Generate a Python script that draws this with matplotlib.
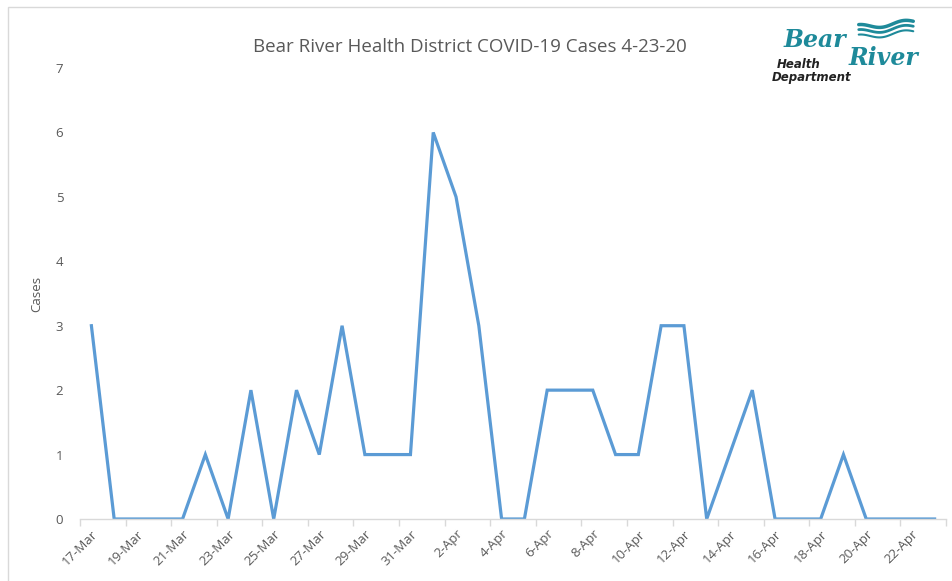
import matplotlib
matplotlib.use("Agg")
import matplotlib.pyplot as plt
import numpy as np
from matplotlib.patches import Rectangle

dates = ["17-Mar","18-Mar","19-Mar","20-Mar","21-Mar","22-Mar","23-Mar","24-Mar","25-Mar",
         "26-Mar","27-Mar","28-Mar","29-Mar","30-Mar","31-Mar","1-Apr","2-Apr","3-Apr",
         "4-Apr","5-Apr","6-Apr","7-Apr","8-Apr","9-Apr","10-Apr","11-Apr","12-Apr",
         "13-Apr","14-Apr","15-Apr","16-Apr","17-Apr","18-Apr","19-Apr","20-Apr","21-Apr",
         "22-Apr","23-Apr"]
cases = [3,0,0,0,0,1,0,2,0,2,1,3,1,1,1,6,5,3,0,0,2,2,2,1,1,3,3,0,1,2,0,0,0,1,0,0,0,0]
yticks = [0,1,2,3,4,5,6,7]
title = "Bear River Health District COVID-19 Cases 4-23-20"

W, H = 952, 581
fig = plt.figure(figsize=(W/100, H/100), dpi=100)
fig.patch.set_facecolor("white")
# chart frame
fig.add_artist(Rectangle((8/W, -0.1), 1.2, (H-7)/H + 0.1, transform=fig.transFigure,
                         fill=False, edgecolor="#d9d9d9", linewidth=1.0))

font = "Open Sans"
gray = "#595959"
ax = fig.add_axes([80/W, 1-519/H, (946-80)/W, (519-68)/H])
x = np.arange(len(dates))
ax.plot(x, cases, color="#5B9BD5", linewidth=2.3, solid_joinstyle="miter")
ax.set_xlim(-0.5, len(dates)-0.5)
ax.set_ylim(0, 7)
ax.set_yticks(yticks)
ax.set_yticklabels([str(v) for v in yticks], fontsize=9.5, color=gray, family=font)
ax.tick_params(axis="y", length=0, pad=12)
for s in ["top", "right", "left"]:
    ax.spines[s].set_visible(False)
ax.spines["bottom"].set_color("#d9d9d9")
ax.spines["bottom"].set_linewidth(1.0)
# tick marks at boundaries, labels at every 2nd date
ax.set_xticks(np.arange(-0.5, len(dates), 2))
ax.set_xticklabels([])
ax.tick_params(axis="x", which="major", length=5, color="#d9d9d9", width=1.0)
ax.set_xticks(x[::2], minor=True)
ax.set_xticklabels(dates[::2], minor=True, rotation=45, ha="right", rotation_mode="anchor",
                   fontsize=9.5, color=gray, family=font)
ax.tick_params(axis="x", which="minor", length=0, pad=6)
ax.set_ylabel("Cases", fontsize=9.5, color=gray, family=font)
ax.yaxis.set_label_coords(-(80-43)/(946-80), 0.5)

fig.text(470/W, 1-47/H, title, ha="center", va="center", fontsize=13.5, color=gray, family=font)

# logo approximation
teal = "#1e8a9a"
fig.text(784/W, 1-40/H, "Bear", ha="left", va="center", fontsize=17, color=teal,
         family="DejaVu Serif", style="italic", fontweight="bold")
fig.text(849/W, 1-58/H, "River", ha="left", va="center", fontsize=17, color=teal,
         family="DejaVu Serif", style="italic", fontweight="bold")
fig.text(777/W, 1-64/H, "Health", ha="left", va="center", fontsize=8.5, color="#222222",
         family="DejaVu Sans", style="italic", fontweight="bold")
fig.text(772/W, 1-77/H, "Department", ha="left", va="center", fontsize=8.5, color="#222222",
         family="DejaVu Sans", style="italic", fontweight="bold")
lax = fig.add_axes([856/W, 1-42/H, 60/W, 28/H])
lax.axis("off")
t = np.linspace(0, 1, 60)
for k, off in enumerate([0.75, 0.5, 0.25]):
    lax.plot(t, off + 0.12*np.sin(2*np.pi*(t*1.2 + 0.25)) + 0.25*t, color=teal,
             linewidth=2.5 - 0.5*k, solid_capstyle="round")
lax.set_xlim(-0.05, 1.05)
lax.set_ylim(0, 1.4)

fig.savefig("out.png", dpi=100, facecolor="white")
